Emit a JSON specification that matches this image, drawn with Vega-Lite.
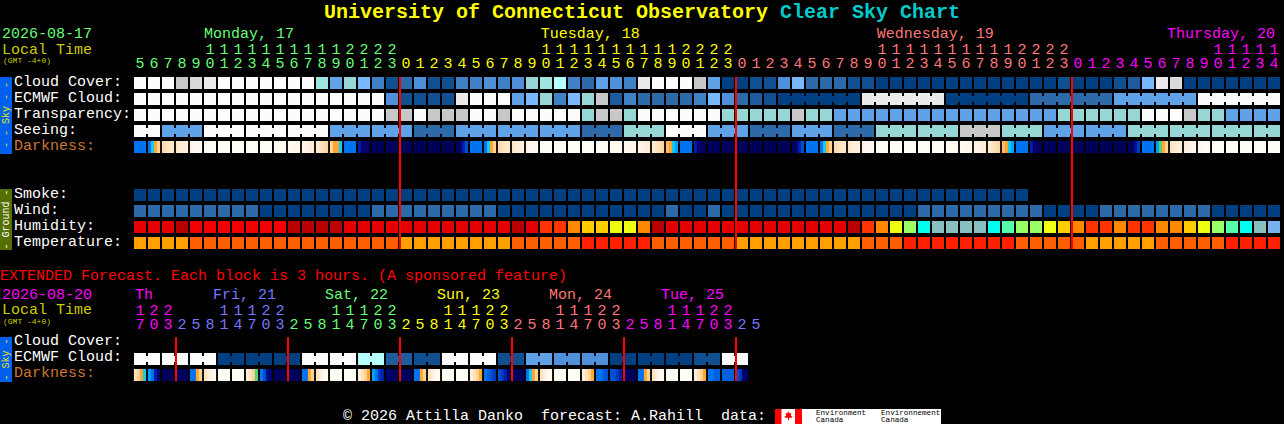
{"$schema":"https://vega.github.io/schema/vega-lite/v6.json","width":1284,"height":424,"autosize":{"type":"fit","contains":"padding"},"padding":0,"background":"#000000","config":{"view":{"stroke":null}},
"datasets":{
"boxes":[{"c":-10,"c1":-9.143,"r":-0.375,"r1":4.4375,"v":"B"},{"c":-10,"c1":-9.143,"r":6.625,"r1":10.4375,"v":"Gd"},{"c":-10,"c1":-9.143,"r":15.875,"r1":18.6875,"v":"B"},{"c":45.357,"c1":57.214,"r":20.375,"r1":21.3125,"v":"W"},{"c":45.357,"c1":45.82,"r":20.375,"r1":21.3125,"v":"Re"},{"c":46.786,"c1":47.286,"r":20.375,"r1":21.3125,"v":"Re"}],
"leaf":[{"c":46.32,"r":20.81,"v":"Re"}],
"rules":[{"c":18.5,"c1":18.643,"r":-0.375,"r1":10.375,"v":"Re"},{"c":42.5,"c1":42.643,"r":-0.375,"r1":10.375,"v":"Re"},{"c":66.5,"c1":66.643,"r":-0.375,"r1":10.375,"v":"Re"},{"c":2.5,"c1":2.643,"r":15.875,"r1":18.625,"v":"Re"},{"c":10.5,"c1":10.643,"r":15.875,"r1":18.625,"v":"Re"},{"c":18.5,"c1":18.643,"r":15.875,"r1":18.625,"v":"Re"},{"c":26.5,"c1":26.643,"r":15.875,"r1":18.625,"v":"Re"},{"c":34.5,"c1":34.643,"r":15.875,"r1":18.625,"v":"Re"},{"c":42.5,"c1":42.643,"r":15.875,"r1":18.625,"v":"Re"}],
"blocks":[
{"c":0,"r":0,"v":"a"},{"c":1,"r":0,"v":"a"},{"c":2,"r":0,"v":"a"},{"c":3,"r":0,"v":"d"},{"c":4,"r":0,"v":"c"},{"c":5,"r":0,"v":"b"},{"c":6,"r":0,"v":"a"},{"c":7,"r":0,"v":"a"},{"c":8,"r":0,"v":"a"},{"c":9,"r":0,"v":"a"},{"c":10,"r":0,"v":"a"},{"c":11,"r":0,"v":"a"},{"c":12,"r":0,"v":"a"},{"c":13,"r":0,"v":"f"},{"c":14,"r":0,"v":"i"},{"c":15,"r":0,"v":"g"},{"c":16,"r":0,"v":"h"},{"c":17,"r":0,"v":"k"},{"c":18,"r":0,"v":"n"},{"c":19,"r":0,"v":"l"},{"c":20,"r":0,"v":"j"},{"c":21,"r":0,"v":"n"},{"c":22,"r":0,"v":"n"},{"c":23,"r":0,"v":"k"},{"c":24,"r":0,"v":"k"},{"c":25,"r":0,"v":"j"},{"c":26,"r":0,"v":"k"},{"c":27,"r":0,"v":"j"},{"c":28,"r":0,"v":"g"},{"c":29,"r":0,"v":"f"},{"c":30,"r":0,"v":"e"},{"c":31,"r":0,"v":"k"},{"c":32,"r":0,"v":"l"},{"c":33,"r":0,"v":"i"},{"c":34,"r":0,"v":"j"},{"c":35,"r":0,"v":"k"},{"c":36,"r":0,"v":"b"},{"c":37,"r":0,"v":"a"},{"c":38,"r":0,"v":"a"},{"c":39,"r":0,"v":"a"},{"c":40,"r":0,"v":"d"},{"c":41,"r":0,"v":"i"},{"c":42,"r":0,"v":"o"},{"c":43,"r":0,"v":"o"},{"c":44,"r":0,"v":"n"},{"c":45,"r":0,"v":"n"},{"c":46,"r":0,"v":"j"},{"c":47,"r":0,"v":"h"},{"c":48,"r":0,"v":"l"},{"c":49,"r":0,"v":"l"},{"c":50,"r":0,"v":"l"},{"c":51,"r":0,"v":"n"},{"c":52,"r":0,"v":"n"},{"c":53,"r":0,"v":"o"},{"c":54,"r":0,"v":"o"},{"c":55,"r":0,"v":"o"},{"c":56,"r":0,"v":"o"},{"c":57,"r":0,"v":"o"},{"c":58,"r":0,"v":"o"},{"c":59,"r":0,"v":"o"},{"c":60,"r":0,"v":"o"},{"c":61,"r":0,"v":"o"},{"c":62,"r":0,"v":"o"},{"c":63,"r":0,"v":"o"},{"c":64,"r":0,"v":"o"},{"c":65,"r":0,"v":"o"},{"c":66,"r":0,"v":"n"},{"c":67,"r":0,"v":"o"},{"c":68,"r":0,"v":"o"},{"c":69,"r":0,"v":"o"},{"c":70,"r":0,"v":"n"},{"c":71,"r":0,"v":"m"},{"c":72,"r":0,"v":"h"},{"c":73,"r":0,"v":"b"},{"c":74,"r":0,"v":"c"},{"c":75,"r":0,"v":"o"},{"c":76,"r":0,"v":"o"},{"c":77,"r":0,"v":"o"},{"c":78,"r":0,"v":"o"},{"c":79,"r":0,"v":"o"},{"c":80,"r":0,"v":"o"},{"c":81,"r":0,"v":"o"},
{"c":0,"r":1,"v":"a"},{"c":1,"r":1,"v":"a"},{"c":2,"r":1,"v":"a"},{"c":3,"r":1,"v":"a"},{"c":4,"r":1,"v":"a"},{"c":5,"r":1,"v":"a"},{"c":6,"r":1,"v":"a"},{"c":7,"r":1,"v":"a"},{"c":8,"r":1,"v":"a"},{"c":9,"r":1,"v":"a"},{"c":10,"r":1,"v":"a"},{"c":11,"r":1,"v":"a"},{"c":12,"r":1,"v":"a"},{"c":13,"r":1,"v":"a"},{"c":14,"r":1,"v":"a"},{"c":15,"r":1,"v":"a"},{"c":16,"r":1,"v":"a"},{"c":17,"r":1,"v":"a"},{"c":18,"r":1,"v":"j"},{"c":19,"r":1,"v":"n"},{"c":20,"r":1,"v":"n"},{"c":21,"r":1,"v":"n"},{"c":22,"r":1,"v":"n"},{"c":23,"r":1,"v":"b"},{"c":24,"r":1,"v":"a"},{"c":25,"r":1,"v":"a"},{"c":26,"r":1,"v":"a"},{"c":27,"r":1,"v":"i"},{"c":28,"r":1,"v":"h"},{"c":29,"r":1,"v":"g"},{"c":30,"r":1,"v":"k"},{"c":31,"r":1,"v":"h"},{"c":32,"r":1,"v":"g"},{"c":33,"r":1,"v":"d"},{"c":34,"r":1,"v":"m"},{"c":35,"r":1,"v":"k"},{"c":36,"r":1,"v":"l"},{"c":37,"r":1,"v":"l"},{"c":38,"r":1,"v":"l"},{"c":39,"r":1,"v":"l"},{"c":40,"r":1,"v":"k"},{"c":41,"r":1,"v":"h"},{"c":42,"r":1,"v":"j"},{"c":43,"r":1,"v":"l"},{"c":44,"r":1,"v":"m"},{"c":45,"r":1,"v":"n"},{"c":46,"r":1,"v":"o"},{"c":47,"r":1,"v":"o"},{"c":48,"r":1,"v":"o"},{"c":49,"r":1,"v":"o"},{"c":50,"r":1,"v":"o"},{"c":51,"r":1,"v":"o"},{"c":52,"r":1,"v":"b"},{"c":53,"r":1,"v":"b"},{"c":54,"r":1,"v":"b"},{"c":55,"r":1,"v":"b"},{"c":56,"r":1,"v":"b"},{"c":57,"r":1,"v":"b"},{"c":58,"r":1,"v":"o"},{"c":59,"r":1,"v":"o"},{"c":60,"r":1,"v":"o"},{"c":61,"r":1,"v":"o"},{"c":62,"r":1,"v":"o"},{"c":63,"r":1,"v":"o"},{"c":64,"r":1,"v":"l"},{"c":65,"r":1,"v":"l"},{"c":66,"r":1,"v":"l"},{"c":67,"r":1,"v":"l"},{"c":68,"r":1,"v":"l"},{"c":69,"r":1,"v":"l"},{"c":70,"r":1,"v":"i"},{"c":71,"r":1,"v":"i"},{"c":72,"r":1,"v":"i"},{"c":73,"r":1,"v":"i"},{"c":74,"r":1,"v":"i"},{"c":75,"r":1,"v":"i"},{"c":76,"r":1,"v":"a"},{"c":77,"r":1,"v":"a"},{"c":78,"r":1,"v":"a"},{"c":79,"r":1,"v":"a"},{"c":80,"r":1,"v":"a"},{"c":81,"r":1,"v":"a"},
{"c":0,"r":2,"v":"a"},{"c":1,"r":2,"v":"a"},{"c":2,"r":2,"v":"a"},{"c":3,"r":2,"v":"a"},{"c":4,"r":2,"v":"a"},{"c":5,"r":2,"v":"a"},{"c":6,"r":2,"v":"a"},{"c":7,"r":2,"v":"a"},{"c":8,"r":2,"v":"a"},{"c":9,"r":2,"v":"a"},{"c":10,"r":2,"v":"a"},{"c":11,"r":2,"v":"a"},{"c":12,"r":2,"v":"a"},{"c":13,"r":2,"v":"a"},{"c":14,"r":2,"v":"a"},{"c":15,"r":2,"v":"a"},{"c":16,"r":2,"v":"a"},{"c":17,"r":2,"v":"a"},{"c":18,"r":2,"v":"d"},{"c":19,"r":2,"v":"d"},{"c":20,"r":2,"v":"a"},{"c":21,"r":2,"v":"d"},{"c":22,"r":2,"v":"d"},{"c":23,"r":2,"v":"d"},{"c":24,"r":2,"v":"a"},{"c":25,"r":2,"v":"a"},{"c":26,"r":2,"v":"d"},{"c":27,"r":2,"v":"a"},{"c":28,"r":2,"v":"a"},{"c":29,"r":2,"v":"a"},{"c":30,"r":2,"v":"a"},{"c":31,"r":2,"v":"a"},{"c":32,"r":2,"v":"g"},{"c":33,"r":2,"v":"d"},{"c":34,"r":2,"v":"d"},{"c":35,"r":2,"v":"g"},{"c":36,"r":2,"v":"a"},{"c":37,"r":2,"v":"a"},{"c":38,"r":2,"v":"a"},{"c":39,"r":2,"v":"a"},{"c":40,"r":2,"v":"a"},{"c":41,"r":2,"v":"a"},{"c":42,"r":2,"v":"g"},{"c":43,"r":2,"v":"g"},{"c":44,"r":2,"v":"g"},{"c":45,"r":2,"v":"g"},{"c":46,"r":2,"v":"g"},{"c":47,"r":2,"v":"d"},{"c":48,"r":2,"v":"g"},{"c":49,"r":2,"v":"g"},{"c":50,"r":2,"v":"i"},{"c":51,"r":2,"v":"i"},{"c":52,"r":2,"v":"i"},{"c":53,"r":2,"v":"i"},{"c":54,"r":2,"v":"i"},{"c":55,"r":2,"v":"i"},{"c":56,"r":2,"v":"i"},{"c":57,"r":2,"v":"i"},{"c":58,"r":2,"v":"i"},{"c":59,"r":2,"v":"i"},{"c":60,"r":2,"v":"i"},{"c":61,"r":2,"v":"i"},{"c":62,"r":2,"v":"i"},{"c":63,"r":2,"v":"i"},{"c":64,"r":2,"v":"i"},{"c":65,"r":2,"v":"i"},{"c":66,"r":2,"v":"g"},{"c":67,"r":2,"v":"g"},{"c":68,"r":2,"v":"g"},{"c":69,"r":2,"v":"g"},{"c":70,"r":2,"v":"g"},{"c":71,"r":2,"v":"g"},{"c":72,"r":2,"v":"a"},{"c":73,"r":2,"v":"a"},{"c":74,"r":2,"v":"a"},{"c":75,"r":2,"v":"d"},{"c":76,"r":2,"v":"g"},{"c":77,"r":2,"v":"g"},{"c":78,"r":2,"v":"i"},{"c":79,"r":2,"v":"i"},{"c":80,"r":2,"v":"i"},{"c":81,"r":2,"v":"i"},
{"c":0,"r":3,"v":"a"},{"c":1,"r":3,"v":"a"},{"c":2,"r":3,"v":"i"},{"c":3,"r":3,"v":"i"},{"c":4,"r":3,"v":"i"},{"c":5,"r":3,"v":"a"},{"c":6,"r":3,"v":"a"},{"c":7,"r":3,"v":"a"},{"c":8,"r":3,"v":"a"},{"c":9,"r":3,"v":"a"},{"c":10,"r":3,"v":"a"},{"c":11,"r":3,"v":"a"},{"c":12,"r":3,"v":"a"},{"c":13,"r":3,"v":"a"},{"c":14,"r":3,"v":"i"},{"c":15,"r":3,"v":"i"},{"c":16,"r":3,"v":"i"},{"c":17,"r":3,"v":"i"},{"c":18,"r":3,"v":"i"},{"c":19,"r":3,"v":"i"},{"c":20,"r":3,"v":"l"},{"c":21,"r":3,"v":"l"},{"c":22,"r":3,"v":"l"},{"c":23,"r":3,"v":"i"},{"c":24,"r":3,"v":"i"},{"c":25,"r":3,"v":"i"},{"c":26,"r":3,"v":"i"},{"c":27,"r":3,"v":"i"},{"c":28,"r":3,"v":"i"},{"c":29,"r":3,"v":"i"},{"c":30,"r":3,"v":"i"},{"c":31,"r":3,"v":"i"},{"c":32,"r":3,"v":"l"},{"c":33,"r":3,"v":"l"},{"c":34,"r":3,"v":"l"},{"c":35,"r":3,"v":"g"},{"c":36,"r":3,"v":"g"},{"c":37,"r":3,"v":"g"},{"c":38,"r":3,"v":"a"},{"c":39,"r":3,"v":"a"},{"c":40,"r":3,"v":"a"},{"c":41,"r":3,"v":"i"},{"c":42,"r":3,"v":"i"},{"c":43,"r":3,"v":"i"},{"c":44,"r":3,"v":"l"},{"c":45,"r":3,"v":"l"},{"c":46,"r":3,"v":"l"},{"c":47,"r":3,"v":"i"},{"c":48,"r":3,"v":"i"},{"c":49,"r":3,"v":"i"},{"c":50,"r":3,"v":"l"},{"c":51,"r":3,"v":"l"},{"c":52,"r":3,"v":"l"},{"c":53,"r":3,"v":"g"},{"c":54,"r":3,"v":"g"},{"c":55,"r":3,"v":"g"},{"c":56,"r":3,"v":"g"},{"c":57,"r":3,"v":"g"},{"c":58,"r":3,"v":"g"},{"c":59,"r":3,"v":"d"},{"c":60,"r":3,"v":"d"},{"c":61,"r":3,"v":"d"},{"c":62,"r":3,"v":"g"},{"c":63,"r":3,"v":"g"},{"c":64,"r":3,"v":"g"},{"c":65,"r":3,"v":"i"},{"c":66,"r":3,"v":"i"},{"c":67,"r":3,"v":"i"},{"c":68,"r":3,"v":"i"},{"c":69,"r":3,"v":"i"},{"c":70,"r":3,"v":"i"},{"c":71,"r":3,"v":"g"},{"c":72,"r":3,"v":"g"},{"c":73,"r":3,"v":"g"},{"c":74,"r":3,"v":"g"},{"c":75,"r":3,"v":"g"},{"c":76,"r":3,"v":"g"},{"c":77,"r":3,"v":"g"},{"c":78,"r":3,"v":"g"},{"c":79,"r":3,"v":"g"},{"c":80,"r":3,"v":"g"},{"c":81,"r":3,"v":"g"},
{"c":0,"r":7,"v":"o"},{"c":1,"r":7,"v":"o"},{"c":2,"r":7,"v":"o"},{"c":3,"r":7,"v":"o"},{"c":4,"r":7,"v":"o"},{"c":5,"r":7,"v":"o"},{"c":6,"r":7,"v":"o"},{"c":7,"r":7,"v":"o"},{"c":8,"r":7,"v":"o"},{"c":9,"r":7,"v":"o"},{"c":10,"r":7,"v":"o"},{"c":11,"r":7,"v":"o"},{"c":12,"r":7,"v":"o"},{"c":13,"r":7,"v":"o"},{"c":14,"r":7,"v":"o"},{"c":15,"r":7,"v":"o"},{"c":16,"r":7,"v":"o"},{"c":17,"r":7,"v":"o"},{"c":18,"r":7,"v":"o"},{"c":19,"r":7,"v":"o"},{"c":20,"r":7,"v":"o"},{"c":21,"r":7,"v":"o"},{"c":22,"r":7,"v":"o"},{"c":23,"r":7,"v":"o"},{"c":24,"r":7,"v":"o"},{"c":25,"r":7,"v":"o"},{"c":26,"r":7,"v":"o"},{"c":27,"r":7,"v":"o"},{"c":28,"r":7,"v":"o"},{"c":29,"r":7,"v":"o"},{"c":30,"r":7,"v":"o"},{"c":31,"r":7,"v":"o"},{"c":32,"r":7,"v":"o"},{"c":33,"r":7,"v":"o"},{"c":34,"r":7,"v":"o"},{"c":35,"r":7,"v":"o"},{"c":36,"r":7,"v":"o"},{"c":37,"r":7,"v":"o"},{"c":38,"r":7,"v":"o"},{"c":39,"r":7,"v":"o"},{"c":40,"r":7,"v":"o"},{"c":41,"r":7,"v":"o"},{"c":42,"r":7,"v":"o"},{"c":43,"r":7,"v":"o"},{"c":44,"r":7,"v":"o"},{"c":45,"r":7,"v":"o"},{"c":46,"r":7,"v":"o"},{"c":47,"r":7,"v":"o"},{"c":48,"r":7,"v":"o"},{"c":49,"r":7,"v":"o"},{"c":50,"r":7,"v":"o"},{"c":51,"r":7,"v":"o"},{"c":52,"r":7,"v":"o"},{"c":53,"r":7,"v":"o"},{"c":54,"r":7,"v":"o"},{"c":55,"r":7,"v":"o"},{"c":56,"r":7,"v":"o"},{"c":57,"r":7,"v":"o"},{"c":58,"r":7,"v":"o"},{"c":59,"r":7,"v":"o"},{"c":60,"r":7,"v":"o"},{"c":61,"r":7,"v":"o"},{"c":62,"r":7,"v":"o"},{"c":63,"r":7,"v":"o"},
{"c":0,"r":8,"v":"l"},{"c":1,"r":8,"v":"l"},{"c":2,"r":8,"v":"l"},{"c":3,"r":8,"v":"l"},{"c":4,"r":8,"v":"l"},{"c":5,"r":8,"v":"l"},{"c":6,"r":8,"v":"l"},{"c":7,"r":8,"v":"l"},{"c":8,"r":8,"v":"l"},{"c":9,"r":8,"v":"o"},{"c":10,"r":8,"v":"o"},{"c":11,"r":8,"v":"o"},{"c":12,"r":8,"v":"o"},{"c":13,"r":8,"v":"o"},{"c":14,"r":8,"v":"o"},{"c":15,"r":8,"v":"o"},{"c":16,"r":8,"v":"o"},{"c":17,"r":8,"v":"l"},{"c":18,"r":8,"v":"l"},{"c":19,"r":8,"v":"l"},{"c":20,"r":8,"v":"l"},{"c":21,"r":8,"v":"l"},{"c":22,"r":8,"v":"l"},{"c":23,"r":8,"v":"l"},{"c":24,"r":8,"v":"l"},{"c":25,"r":8,"v":"l"},{"c":26,"r":8,"v":"o"},{"c":27,"r":8,"v":"o"},{"c":28,"r":8,"v":"o"},{"c":29,"r":8,"v":"o"},{"c":30,"r":8,"v":"o"},{"c":31,"r":8,"v":"o"},{"c":32,"r":8,"v":"o"},{"c":33,"r":8,"v":"o"},{"c":34,"r":8,"v":"o"},{"c":35,"r":8,"v":"o"},{"c":36,"r":8,"v":"o"},{"c":37,"r":8,"v":"o"},{"c":38,"r":8,"v":"l"},{"c":39,"r":8,"v":"o"},{"c":40,"r":8,"v":"o"},{"c":41,"r":8,"v":"l"},{"c":42,"r":8,"v":"o"},{"c":43,"r":8,"v":"o"},{"c":44,"r":8,"v":"o"},{"c":45,"r":8,"v":"o"},{"c":46,"r":8,"v":"o"},{"c":47,"r":8,"v":"o"},{"c":48,"r":8,"v":"o"},{"c":49,"r":8,"v":"o"},{"c":50,"r":8,"v":"o"},{"c":51,"r":8,"v":"o"},{"c":52,"r":8,"v":"o"},{"c":53,"r":8,"v":"o"},{"c":54,"r":8,"v":"o"},{"c":55,"r":8,"v":"o"},{"c":56,"r":8,"v":"l"},{"c":57,"r":8,"v":"l"},{"c":58,"r":8,"v":"l"},{"c":59,"r":8,"v":"l"},{"c":60,"r":8,"v":"l"},{"c":61,"r":8,"v":"l"},{"c":62,"r":8,"v":"l"},{"c":63,"r":8,"v":"l"},{"c":64,"r":8,"v":"l"},{"c":65,"r":8,"v":"o"},{"c":66,"r":8,"v":"o"},{"c":67,"r":8,"v":"o"},{"c":68,"r":8,"v":"o"},{"c":69,"r":8,"v":"l"},{"c":70,"r":8,"v":"l"},{"c":71,"r":8,"v":"l"},{"c":72,"r":8,"v":"l"},{"c":73,"r":8,"v":"l"},{"c":74,"r":8,"v":"l"},{"c":75,"r":8,"v":"l"},{"c":76,"r":8,"v":"l"},{"c":77,"r":8,"v":"o"},{"c":78,"r":8,"v":"o"},{"c":79,"r":8,"v":"o"},{"c":80,"r":8,"v":"o"},{"c":81,"r":8,"v":"o"},
{"c":0,"r":9,"v":"F"},{"c":1,"r":9,"v":"F"},{"c":2,"r":9,"v":"F"},{"c":3,"r":9,"v":"D"},{"c":4,"r":9,"v":"E"},{"c":5,"r":9,"v":"E"},{"c":6,"r":9,"v":"E"},{"c":7,"r":9,"v":"E"},{"c":8,"r":9,"v":"E"},{"c":9,"r":9,"v":"E"},{"c":10,"r":9,"v":"E"},{"c":11,"r":9,"v":"D"},{"c":12,"r":9,"v":"D"},{"c":13,"r":9,"v":"D"},{"c":14,"r":9,"v":"D"},{"c":15,"r":9,"v":"F"},{"c":16,"r":9,"v":"F"},{"c":17,"r":9,"v":"F"},{"c":18,"r":9,"v":"F"},{"c":19,"r":9,"v":"F"},{"c":20,"r":9,"v":"F"},{"c":21,"r":9,"v":"F"},{"c":22,"r":9,"v":"F"},{"c":23,"r":9,"v":"F"},{"c":24,"r":9,"v":"F"},{"c":25,"r":9,"v":"F"},{"c":26,"r":9,"v":"F"},{"c":27,"r":9,"v":"D"},{"c":28,"r":9,"v":"F"},{"c":29,"r":9,"v":"H"},{"c":30,"r":9,"v":"H"},{"c":31,"r":9,"v":"I"},{"c":32,"r":9,"v":"J"},{"c":33,"r":9,"v":"J"},{"c":34,"r":9,"v":"K"},{"c":35,"r":9,"v":"K"},{"c":36,"r":9,"v":"I"},{"c":37,"r":9,"v":"D"},{"c":38,"r":9,"v":"F"},{"c":39,"r":9,"v":"F"},{"c":40,"r":9,"v":"F"},{"c":41,"r":9,"v":"F"},{"c":42,"r":9,"v":"F"},{"c":43,"r":9,"v":"F"},{"c":44,"r":9,"v":"F"},{"c":45,"r":9,"v":"F"},{"c":46,"r":9,"v":"F"},{"c":47,"r":9,"v":"F"},{"c":48,"r":9,"v":"F"},{"c":49,"r":9,"v":"F"},{"c":50,"r":9,"v":"F"},{"c":51,"r":9,"v":"D"},{"c":52,"r":9,"v":"H"},{"c":53,"r":9,"v":"I"},{"c":54,"r":9,"v":"K"},{"c":55,"r":9,"v":"L"},{"c":56,"r":9,"v":"N"},{"c":57,"r":9,"v":"O"},{"c":58,"r":9,"v":"O"},{"c":59,"r":9,"v":"O"},{"c":60,"r":9,"v":"O"},{"c":61,"r":9,"v":"N"},{"c":62,"r":9,"v":"M"},{"c":63,"r":9,"v":"L"},{"c":64,"r":9,"v":"L"},{"c":65,"r":9,"v":"K"},{"c":66,"r":9,"v":"J"},{"c":67,"r":9,"v":"I"},{"c":68,"r":9,"v":"H"},{"c":69,"r":9,"v":"H"},{"c":70,"r":9,"v":"I"},{"c":71,"r":9,"v":"H"},{"c":72,"r":9,"v":"H"},{"c":73,"r":9,"v":"I"},{"c":74,"r":9,"v":"I"},{"c":75,"r":9,"v":"J"},{"c":76,"r":9,"v":"K"},{"c":77,"r":9,"v":"L"},{"c":78,"r":9,"v":"M"},{"c":79,"r":9,"v":"N"},{"c":80,"r":9,"v":"O"},{"c":81,"r":9,"v":"P"},
{"c":0,"r":10,"v":"Q"},{"c":1,"r":10,"v":"Q"},{"c":2,"r":10,"v":"Q"},{"c":3,"r":10,"v":"Q"},{"c":4,"r":10,"v":"S"},{"c":5,"r":10,"v":"S"},{"c":6,"r":10,"v":"S"},{"c":7,"r":10,"v":"S"},{"c":8,"r":10,"v":"S"},{"c":9,"r":10,"v":"S"},{"c":10,"r":10,"v":"S"},{"c":11,"r":10,"v":"S"},{"c":12,"r":10,"v":"S"},{"c":13,"r":10,"v":"S"},{"c":14,"r":10,"v":"S"},{"c":15,"r":10,"v":"S"},{"c":16,"r":10,"v":"S"},{"c":17,"r":10,"v":"S"},{"c":18,"r":10,"v":"S"},{"c":19,"r":10,"v":"Q"},{"c":20,"r":10,"v":"Q"},{"c":21,"r":10,"v":"Q"},{"c":22,"r":10,"v":"Q"},{"c":23,"r":10,"v":"Q"},{"c":24,"r":10,"v":"Q"},{"c":25,"r":10,"v":"Q"},{"c":26,"r":10,"v":"Q"},{"c":27,"r":10,"v":"S"},{"c":28,"r":10,"v":"S"},{"c":29,"r":10,"v":"S"},{"c":30,"r":10,"v":"S"},{"c":31,"r":10,"v":"S"},{"c":32,"r":10,"v":"T"},{"c":33,"r":10,"v":"T"},{"c":34,"r":10,"v":"T"},{"c":35,"r":10,"v":"T"},{"c":36,"r":10,"v":"T"},{"c":37,"r":10,"v":"S"},{"c":38,"r":10,"v":"S"},{"c":39,"r":10,"v":"S"},{"c":40,"r":10,"v":"S"},{"c":41,"r":10,"v":"S"},{"c":42,"r":10,"v":"S"},{"c":43,"r":10,"v":"Q"},{"c":44,"r":10,"v":"Q"},{"c":45,"r":10,"v":"Q"},{"c":46,"r":10,"v":"Q"},{"c":47,"r":10,"v":"Q"},{"c":48,"r":10,"v":"Q"},{"c":49,"r":10,"v":"Q"},{"c":50,"r":10,"v":"Q"},{"c":51,"r":10,"v":"Q"},{"c":52,"r":10,"v":"S"},{"c":53,"r":10,"v":"S"},{"c":54,"r":10,"v":"S"},{"c":55,"r":10,"v":"T"},{"c":56,"r":10,"v":"T"},{"c":57,"r":10,"v":"T"},{"c":58,"r":10,"v":"T"},{"c":59,"r":10,"v":"T"},{"c":60,"r":10,"v":"T"},{"c":61,"r":10,"v":"T"},{"c":62,"r":10,"v":"T"},{"c":63,"r":10,"v":"S"},{"c":64,"r":10,"v":"S"},{"c":65,"r":10,"v":"S"},{"c":66,"r":10,"v":"S"},{"c":67,"r":10,"v":"S"},{"c":68,"r":10,"v":"Q"},{"c":69,"r":10,"v":"Q"},{"c":70,"r":10,"v":"Q"},{"c":71,"r":10,"v":"Q"},{"c":72,"r":10,"v":"Q"},{"c":73,"r":10,"v":"S"},{"c":74,"r":10,"v":"S"},{"c":75,"r":10,"v":"S"},{"c":76,"r":10,"v":"S"},{"c":77,"r":10,"v":"S"},{"c":78,"r":10,"v":"T"},{"c":79,"r":10,"v":"T"},{"c":80,"r":10,"v":"T"},{"c":81,"r":10,"v":"T"},
{"c":0,"r":17.25,"v":"a"},{"c":1,"r":17.25,"v":"a"},{"c":2,"r":17.25,"v":"a"},{"c":3,"r":17.25,"v":"a"},{"c":4,"r":17.25,"v":"a"},{"c":5,"r":17.25,"v":"a"},{"c":6,"r":17.25,"v":"o"},{"c":7,"r":17.25,"v":"o"},{"c":8,"r":17.25,"v":"o"},{"c":9,"r":17.25,"v":"o"},{"c":10,"r":17.25,"v":"o"},{"c":11,"r":17.25,"v":"o"},{"c":12,"r":17.25,"v":"a"},{"c":13,"r":17.25,"v":"a"},{"c":14,"r":17.25,"v":"a"},{"c":15,"r":17.25,"v":"a"},{"c":16,"r":17.25,"v":"e"},{"c":17,"r":17.25,"v":"e"},{"c":18,"r":17.25,"v":"m"},{"c":19,"r":17.25,"v":"m"},{"c":20,"r":17.25,"v":"n"},{"c":21,"r":17.25,"v":"n"},{"c":22,"r":17.25,"v":"a"},{"c":23,"r":17.25,"v":"a"},{"c":24,"r":17.25,"v":"a"},{"c":25,"r":17.25,"v":"a"},{"c":26,"r":17.25,"v":"n"},{"c":27,"r":17.25,"v":"n"},{"c":28,"r":17.25,"v":"i"},{"c":29,"r":17.25,"v":"i"},{"c":30,"r":17.25,"v":"j"},{"c":31,"r":17.25,"v":"j"},{"c":32,"r":17.25,"v":"j"},{"c":33,"r":17.25,"v":"j"},{"c":34,"r":17.25,"v":"o"},{"c":35,"r":17.25,"v":"o"},{"c":36,"r":17.25,"v":"o"},{"c":37,"r":17.25,"v":"o"},{"c":38,"r":17.25,"v":"o"},{"c":39,"r":17.25,"v":"o"},{"c":40,"r":17.25,"v":"n"},{"c":41,"r":17.25,"v":"n"},{"c":42,"r":17.25,"v":"a"},{"c":43,"r":17.25,"v":"a"}],
"links":[{"c":0.5,"r":3,"v":"a"},{"c":2.5,"r":3,"v":"i"},{"c":3.5,"r":3,"v":"i"},{"c":5.5,"r":3,"v":"a"},{"c":6.5,"r":3,"v":"a"},{"c":8.5,"r":3,"v":"a"},{"c":9.5,"r":3,"v":"a"},{"c":11.5,"r":3,"v":"a"},{"c":12.5,"r":3,"v":"a"},{"c":14.5,"r":3,"v":"i"},{"c":15.5,"r":3,"v":"i"},{"c":17.5,"r":3,"v":"i"},{"c":18.5,"r":3,"v":"i"},{"c":20.5,"r":3,"v":"l"},{"c":21.5,"r":3,"v":"l"},{"c":23.5,"r":3,"v":"i"},{"c":24.5,"r":3,"v":"i"},{"c":26.5,"r":3,"v":"i"},{"c":27.5,"r":3,"v":"i"},{"c":29.5,"r":3,"v":"i"},{"c":30.5,"r":3,"v":"i"},{"c":32.5,"r":3,"v":"l"},{"c":33.5,"r":3,"v":"l"},{"c":35.5,"r":3,"v":"g"},{"c":36.5,"r":3,"v":"g"},{"c":38.5,"r":3,"v":"a"},{"c":39.5,"r":3,"v":"a"},{"c":41.5,"r":3,"v":"i"},{"c":42.5,"r":3,"v":"i"},{"c":44.5,"r":3,"v":"l"},{"c":45.5,"r":3,"v":"l"},{"c":47.5,"r":3,"v":"i"},{"c":48.5,"r":3,"v":"i"},{"c":50.5,"r":3,"v":"l"},{"c":51.5,"r":3,"v":"l"},{"c":53.5,"r":3,"v":"g"},{"c":54.5,"r":3,"v":"g"},{"c":56.5,"r":3,"v":"g"},{"c":57.5,"r":3,"v":"g"},{"c":59.5,"r":3,"v":"d"},{"c":60.5,"r":3,"v":"d"},{"c":62.5,"r":3,"v":"g"},{"c":63.5,"r":3,"v":"g"},{"c":65.5,"r":3,"v":"i"},{"c":66.5,"r":3,"v":"i"},{"c":68.5,"r":3,"v":"i"},{"c":69.5,"r":3,"v":"i"},{"c":71.5,"r":3,"v":"g"},{"c":72.5,"r":3,"v":"g"},{"c":74.5,"r":3,"v":"g"},{"c":75.5,"r":3,"v":"g"},{"c":77.5,"r":3,"v":"g"},{"c":78.5,"r":3,"v":"g"},{"c":80.5,"r":3,"v":"g"},
{"c":46.5,"r":1,"v":"o"},{"c":47.5,"r":1,"v":"o"},{"c":48.5,"r":1,"v":"o"},{"c":49.5,"r":1,"v":"o"},{"c":50.5,"r":1,"v":"o"},{"c":52.5,"r":1,"v":"b"},{"c":53.5,"r":1,"v":"b"},{"c":54.5,"r":1,"v":"b"},{"c":55.5,"r":1,"v":"b"},{"c":56.5,"r":1,"v":"b"},{"c":58.5,"r":1,"v":"o"},{"c":59.5,"r":1,"v":"o"},{"c":60.5,"r":1,"v":"o"},{"c":61.5,"r":1,"v":"o"},{"c":62.5,"r":1,"v":"o"},{"c":64.5,"r":1,"v":"l"},{"c":65.5,"r":1,"v":"l"},{"c":66.5,"r":1,"v":"l"},{"c":67.5,"r":1,"v":"l"},{"c":68.5,"r":1,"v":"l"},{"c":70.5,"r":1,"v":"i"},{"c":71.5,"r":1,"v":"i"},{"c":72.5,"r":1,"v":"i"},{"c":73.5,"r":1,"v":"i"},{"c":74.5,"r":1,"v":"i"},{"c":76.5,"r":1,"v":"a"},{"c":77.5,"r":1,"v":"a"},{"c":78.5,"r":1,"v":"a"},{"c":79.5,"r":1,"v":"a"},{"c":80.5,"r":1,"v":"a"},
{"c":0.5,"r":17.25,"v":"a"},{"c":2.5,"r":17.25,"v":"a"},{"c":4.5,"r":17.25,"v":"a"},{"c":6.5,"r":17.25,"v":"o"},{"c":8.5,"r":17.25,"v":"o"},{"c":10.5,"r":17.25,"v":"o"},{"c":12.5,"r":17.25,"v":"a"},{"c":14.5,"r":17.25,"v":"a"},{"c":16.5,"r":17.25,"v":"e"},{"c":18.5,"r":17.25,"v":"m"},{"c":20.5,"r":17.25,"v":"n"},{"c":22.5,"r":17.25,"v":"a"},{"c":24.5,"r":17.25,"v":"a"},{"c":26.5,"r":17.25,"v":"n"},{"c":28.5,"r":17.25,"v":"i"},{"c":30.5,"r":17.25,"v":"j"},{"c":32.5,"r":17.25,"v":"j"},{"c":34.5,"r":17.25,"v":"o"},{"c":36.5,"r":17.25,"v":"o"},{"c":38.5,"r":17.25,"v":"o"},{"c":40.5,"r":17.25,"v":"n"},{"c":42.5,"r":17.25,"v":"a"}],
"dark":[{"c":0,"r":4,"d":7},{"c":5,"r":4,"d":0},{"c":6,"r":4,"d":0},{"c":7,"r":4,"d":0},{"c":8,"r":4,"d":0},{"c":9,"r":4,"d":0},{"c":15,"r":4,"d":7},{"c":17,"r":4,"d":11},{"c":18,"r":4,"d":11},{"c":19,"r":4,"d":11},{"c":20,"r":4,"d":11},{"c":21,"r":4,"d":11},{"c":22,"r":4,"d":11},{"c":24,"r":4,"d":7},{"c":29,"r":4,"d":0},{"c":30,"r":4,"d":0},{"c":31,"r":4,"d":0},{"c":32,"r":4,"d":0},{"c":33,"r":4,"d":0},{"c":39,"r":4,"d":7},{"c":41,"r":4,"d":11},{"c":42,"r":4,"d":11},{"c":43,"r":4,"d":11},{"c":44,"r":4,"d":11},{"c":45,"r":4,"d":11},{"c":46,"r":4,"d":11},{"c":48,"r":4,"d":7},{"c":53,"r":4,"d":0},{"c":54,"r":4,"d":0},{"c":55,"r":4,"d":0},{"c":56,"r":4,"d":0},{"c":57,"r":4,"d":0},{"c":63,"r":4,"d":7},{"c":65,"r":4,"d":11},{"c":66,"r":4,"d":11},{"c":67,"r":4,"d":11},{"c":68,"r":4,"d":11},{"c":69,"r":4,"d":11},{"c":70,"r":4,"d":11},{"c":72,"r":4,"d":7},{"c":77,"r":4,"d":0},{"c":78,"r":4,"d":0},{"c":79,"r":4,"d":0},{"c":80,"r":4,"d":0},{"c":81,"r":4,"d":0},
{"c":2,"r":18.25,"d":11},{"c":3,"r":18.25,"d":11},{"c":6,"r":18.25,"d":0},{"c":7,"r":18.25,"d":0},{"c":10,"r":18.25,"d":11},{"c":11,"r":18.25,"d":11},{"c":14,"r":18.25,"d":0},{"c":15,"r":18.25,"d":0},{"c":19,"r":18.25,"d":11},{"c":22,"r":18.25,"d":0},{"c":23,"r":18.25,"d":0},{"c":27,"r":18.25,"d":11},{"c":30,"r":18.25,"d":0},{"c":31,"r":18.25,"d":0},{"c":38,"r":18.25,"d":0},{"c":39,"r":18.25,"d":0},{"c":42,"r":18.25,"d":7.5}],
"strips":[
{"c":0.679,"r":4,"d":7},{"c":0.893,"r":4,"d":6},{"c":1.107,"r":4,"d":5},{"c":1.321,"r":4,"d":4},
{"c":1.679,"r":4,"d":3.5},{"c":1.893,"r":4,"d":3},{"c":2.107,"r":4,"d":2.7},{"c":2.321,"r":4,"d":2.5},
{"c":2.679,"r":4,"d":2.5},{"c":2.893,"r":4,"d":2},{"c":3.107,"r":4,"d":2},{"c":3.321,"r":4,"d":1.5},
{"c":3.679,"r":4,"d":1.5},{"c":3.893,"r":4,"d":1},{"c":4.107,"r":4,"d":1},{"c":4.321,"r":4,"d":0.5},
{"c":9.679,"r":4,"d":0},{"c":9.893,"r":4,"d":0.2},{"c":10.107,"r":4,"d":0.3},{"c":10.321,"r":4,"d":0.5},
{"c":10.679,"r":4,"d":0.5},{"c":10.893,"r":4,"d":0.8},{"c":11.107,"r":4,"d":1},{"c":11.321,"r":4,"d":1.2},
{"c":11.679,"r":4,"d":1.3},{"c":11.893,"r":4,"d":1.6},{"c":12.107,"r":4,"d":2},{"c":12.321,"r":4,"d":2.2},
{"c":12.679,"r":4,"d":2.3},{"c":12.893,"r":4,"d":2.8},{"c":13.107,"r":4,"d":3.2},{"c":13.321,"r":4,"d":3.8},
{"c":13.679,"r":4,"d":4},{"c":13.893,"r":4,"d":5},{"c":14.107,"r":4,"d":5},{"c":14.321,"r":4,"d":6},
{"c":15.679,"r":4,"d":9},{"c":15.893,"r":4,"d":10},{"c":16.107,"r":4,"d":10},{"c":16.321,"r":4,"d":10.5},
{"c":22.679,"r":4,"d":11},{"c":22.893,"r":4,"d":10},{"c":23.107,"r":4,"d":9},{"c":23.321,"r":4,"d":8},
{"c":24.679,"r":4,"d":7},{"c":24.893,"r":4,"d":6},{"c":25.107,"r":4,"d":5},{"c":25.321,"r":4,"d":4},
{"c":25.679,"r":4,"d":3.5},{"c":25.893,"r":4,"d":3},{"c":26.107,"r":4,"d":2.7},{"c":26.321,"r":4,"d":2.5},
{"c":26.679,"r":4,"d":2.5},{"c":26.893,"r":4,"d":2},{"c":27.107,"r":4,"d":2},{"c":27.321,"r":4,"d":1.5},
{"c":27.679,"r":4,"d":1.5},{"c":27.893,"r":4,"d":1},{"c":28.107,"r":4,"d":1},{"c":28.321,"r":4,"d":0.5},
{"c":33.679,"r":4,"d":0},{"c":33.893,"r":4,"d":0.2},{"c":34.107,"r":4,"d":0.3},{"c":34.321,"r":4,"d":0.5},
{"c":34.679,"r":4,"d":0.5},{"c":34.893,"r":4,"d":0.8},{"c":35.107,"r":4,"d":1},{"c":35.321,"r":4,"d":1.2},
{"c":35.679,"r":4,"d":1.3},{"c":35.893,"r":4,"d":1.6},{"c":36.107,"r":4,"d":2},{"c":36.321,"r":4,"d":2.2},
{"c":36.679,"r":4,"d":2.3},{"c":36.893,"r":4,"d":2.8},{"c":37.107,"r":4,"d":3.2},{"c":37.321,"r":4,"d":3.8},
{"c":37.679,"r":4,"d":4.5},{"c":37.893,"r":4,"d":5},{"c":38.107,"r":4,"d":6},{"c":38.321,"r":4,"d":6.5},
{"c":39.679,"r":4,"d":9},{"c":39.893,"r":4,"d":10},{"c":40.107,"r":4,"d":10.5},{"c":40.321,"r":4,"d":11},
{"c":46.679,"r":4,"d":11},{"c":46.893,"r":4,"d":10},{"c":47.107,"r":4,"d":9},{"c":47.321,"r":4,"d":8},
{"c":48.679,"r":4,"d":7},{"c":48.893,"r":4,"d":6},{"c":49.107,"r":4,"d":5},{"c":49.321,"r":4,"d":4},
{"c":49.679,"r":4,"d":3.5},{"c":49.893,"r":4,"d":3},{"c":50.107,"r":4,"d":2.7},{"c":50.321,"r":4,"d":2.5},
{"c":50.679,"r":4,"d":2.5},{"c":50.893,"r":4,"d":2},{"c":51.107,"r":4,"d":2},{"c":51.321,"r":4,"d":1.5},
{"c":51.679,"r":4,"d":1.5},{"c":51.893,"r":4,"d":1},{"c":52.107,"r":4,"d":1},{"c":52.321,"r":4,"d":0.5},
{"c":57.679,"r":4,"d":0},{"c":57.893,"r":4,"d":0.2},{"c":58.107,"r":4,"d":0.3},{"c":58.321,"r":4,"d":0.5},
{"c":58.679,"r":4,"d":0.5},{"c":58.893,"r":4,"d":0.8},{"c":59.107,"r":4,"d":1},{"c":59.321,"r":4,"d":1.2},
{"c":59.679,"r":4,"d":1.3},{"c":59.893,"r":4,"d":1.6},{"c":60.107,"r":4,"d":2},{"c":60.321,"r":4,"d":2.2},
{"c":60.679,"r":4,"d":2.3},{"c":60.893,"r":4,"d":2.8},{"c":61.107,"r":4,"d":3.2},{"c":61.321,"r":4,"d":3.8},
{"c":61.679,"r":4,"d":4.5},{"c":61.893,"r":4,"d":5},{"c":62.107,"r":4,"d":6},{"c":62.321,"r":4,"d":6.5},
{"c":63.679,"r":4,"d":9},{"c":63.893,"r":4,"d":10},{"c":64.107,"r":4,"d":10.5},{"c":64.321,"r":4,"d":11},
{"c":70.679,"r":4,"d":11},{"c":70.893,"r":4,"d":10.5},{"c":71.107,"r":4,"d":9.5},{"c":71.321,"r":4,"d":8.5},
{"c":72.679,"r":4,"d":6.5},{"c":72.893,"r":4,"d":5.5},{"c":73.107,"r":4,"d":5},{"c":73.321,"r":4,"d":4},
{"c":73.679,"r":4,"d":3},{"c":73.893,"r":4,"d":2.5},{"c":74.107,"r":4,"d":2},{"c":74.321,"r":4,"d":2},
{"c":74.679,"r":4,"d":2},{"c":74.893,"r":4,"d":1.7},{"c":75.107,"r":4,"d":1.3},{"c":75.321,"r":4,"d":1},
{"c":75.679,"r":4,"d":1},{"c":75.893,"r":4,"d":0.8},{"c":76.107,"r":4,"d":0.5},{"c":76.321,"r":4,"d":0.2},
{"c":-0.321,"r":18.25,"d":3},{"c":-0.107,"r":18.25,"d":4},{"c":0.107,"r":18.25,"d":5},{"c":0.321,"r":18.25,"d":6},
{"c":0.679,"r":18.25,"d":6.5},{"c":0.893,"r":18.25,"d":7},{"c":1.107,"r":18.25,"d":9},{"c":1.321,"r":18.25,"d":10},
{"c":3.679,"r":18.25,"d":7},{"c":3.893,"r":18.25,"d":7},{"c":4.107,"r":18.25,"d":5},{"c":4.321,"r":18.25,"d":4},
{"c":4.679,"r":18.25,"d":3},{"c":4.893,"r":18.25,"d":2},{"c":5.107,"r":18.25,"d":1.5},{"c":5.321,"r":18.25,"d":1},
{"c":7.679,"r":18.25,"d":2},{"c":7.893,"r":18.25,"d":3},{"c":8.107,"r":18.25,"d":4},{"c":8.321,"r":18.25,"d":5.5},
{"c":8.679,"r":18.25,"d":7},{"c":8.893,"r":18.25,"d":8},{"c":9.107,"r":18.25,"d":9.5},{"c":9.321,"r":18.25,"d":10},
{"c":11.679,"r":18.25,"d":7},{"c":11.893,"r":18.25,"d":7},{"c":12.107,"r":18.25,"d":5},{"c":12.321,"r":18.25,"d":4},
{"c":12.679,"r":18.25,"d":3},{"c":12.893,"r":18.25,"d":2},{"c":13.107,"r":18.25,"d":1},{"c":13.321,"r":18.25,"d":0.5},
{"c":15.679,"r":18.25,"d":2},{"c":15.893,"r":18.25,"d":3},{"c":16.107,"r":18.25,"d":4},{"c":16.321,"r":18.25,"d":5},
{"c":16.679,"r":18.25,"d":6.5},{"c":16.893,"r":18.25,"d":7},{"c":17.107,"r":18.25,"d":8.5},{"c":17.321,"r":18.25,"d":9},
{"c":17.679,"r":18.25,"d":10},{"c":17.893,"r":18.25,"d":10},{"c":18.107,"r":18.25,"d":10.5},{"c":18.321,"r":18.25,"d":11},
{"c":19.679,"r":18.25,"d":7},{"c":19.893,"r":18.25,"d":7},{"c":20.107,"r":18.25,"d":5},{"c":20.321,"r":18.25,"d":4},
{"c":20.679,"r":18.25,"d":3},{"c":20.893,"r":18.25,"d":2},{"c":21.107,"r":18.25,"d":1},{"c":21.321,"r":18.25,"d":0.5},
{"c":23.679,"r":18.25,"d":2},{"c":23.893,"r":18.25,"d":3},{"c":24.107,"r":18.25,"d":4},{"c":24.321,"r":18.25,"d":5},
{"c":24.679,"r":18.25,"d":7},{"c":24.893,"r":18.25,"d":7.5},{"c":25.107,"r":18.25,"d":8},{"c":25.321,"r":18.25,"d":8.5},
{"c":25.679,"r":18.25,"d":8},{"c":25.893,"r":18.25,"d":8.5},{"c":26.107,"r":18.25,"d":9},{"c":26.321,"r":18.25,"d":10},
{"c":27.679,"r":18.25,"d":7},{"c":27.893,"r":18.25,"d":6},{"c":28.107,"r":18.25,"d":5},{"c":28.321,"r":18.25,"d":4},
{"c":28.679,"r":18.25,"d":3},{"c":28.893,"r":18.25,"d":2},{"c":29.107,"r":18.25,"d":1},{"c":29.321,"r":18.25,"d":0.5},
{"c":31.679,"r":18.25,"d":2},{"c":31.893,"r":18.25,"d":3},{"c":32.107,"r":18.25,"d":4},{"c":32.321,"r":18.25,"d":5},
{"c":32.679,"r":18.25,"d":7},{"c":32.893,"r":18.25,"d":7},{"c":33.107,"r":18.25,"d":7.5},{"c":33.321,"r":18.25,"d":8},
{"c":33.679,"r":18.25,"d":8},{"c":33.893,"r":18.25,"d":8},{"c":34.107,"r":18.25,"d":8.5},{"c":34.321,"r":18.25,"d":9},
{"c":34.679,"r":18.25,"d":10.5},{"c":34.893,"r":18.25,"d":10.5},{"c":35.107,"r":18.25,"d":11},{"c":35.321,"r":18.25,"d":11},
{"c":35.679,"r":18.25,"d":7},{"c":35.893,"r":18.25,"d":7},{"c":36.107,"r":18.25,"d":5},{"c":36.321,"r":18.25,"d":4},
{"c":36.679,"r":18.25,"d":3},{"c":36.893,"r":18.25,"d":2},{"c":37.107,"r":18.25,"d":1},{"c":37.321,"r":18.25,"d":0.5},
{"c":39.679,"r":18.25,"d":2},{"c":39.893,"r":18.25,"d":3},{"c":40.107,"r":18.25,"d":4},{"c":40.321,"r":18.25,"d":5},
{"c":40.679,"r":18.25,"d":7},{"c":40.893,"r":18.25,"d":7},{"c":41.107,"r":18.25,"d":7.5},{"c":41.321,"r":18.25,"d":7.5},
{"c":42.679,"r":18.25,"d":8},{"c":42.893,"r":18.25,"d":8.5},{"c":43.107,"r":18.25,"d":10},{"c":43.321,"r":18.25,"d":10.5}],
"title":[{"c":13.143,"r":-4.4375,"t":"University of Connecticut Observatory","v":"Y"},{"c":45.714,"r":-4.4375,"t":"Clear Sky Chart","v":"Cy"}],
"labels":[{"c":-9.857,"r":-3.0625,"t":"2026-08-17","v":"Gr"},{"c":-9.857,"r":-2.0625,"t":"Local Time","v":"Ol"},{"c":4.571,"r":-3.0625,"t":"Monday, 17","v":"Gr"},{"c":28.62,"r":-3.0625,"t":"Tuesday, 18","v":"Y"},{"c":52.62,"r":-3.0625,"t":"Wednesday, 19","v":"Sa"},{"c":73.357,"r":-3.0625,"t":"Thursday, 20","v":"Ma"},
{"c":-9,"r":-0.06,"t":"Cloud Cover:","v":"W"},{"c":-9,"r":0.94,"t":"ECMWF Cloud:","v":"W"},{"c":-9,"r":1.94,"t":"Transparency:","v":"W"},{"c":-9,"r":2.94,"t":"Seeing:","v":"W"},{"c":-9,"r":3.94,"t":"Darkness:","v":"Da"},{"c":-9,"r":6.94,"t":"Smoke:","v":"W"},{"c":-9,"r":7.94,"t":"Wind:","v":"W"},{"c":-9,"r":8.94,"t":"Humidity:","v":"W"},{"c":-9,"r":9.94,"t":"Temperature:","v":"W"},
{"c":-10,"r":12.0625,"t":"EXTENDED Forecast. Each block is 3 hours. (A sponsored feature)","v":"Re"},{"c":-9.857,"r":13.25,"t":"2026-08-20","v":"Ma"},{"c":-9.857,"r":14.1875,"t":"Local Time","v":"Ol"},{"c":-0.357,"r":13.25,"t":"Th","v":"Ma"},{"c":5.214,"r":13.25,"t":"Fri, 21","v":"Pe"},{"c":13.214,"r":13.25,"t":"Sat, 22","v":"Gr"},{"c":21.214,"r":13.25,"t":"Sun, 23","v":"Y"},{"c":29.214,"r":13.25,"t":"Mon, 24","v":"Sa"},{"c":37.214,"r":13.25,"t":"Tue, 25","v":"Ma"},
{"c":-9,"r":16.125,"t":"Cloud Cover:","v":"W"},{"c":-9,"r":17.125,"t":"ECMWF Cloud:","v":"W"},{"c":-9,"r":18.125,"t":"Darkness:","v":"Da"},
{"c":14.5,"r":20.8125,"t":"© 2026","v":"W"},{"c":19,"r":20.8125,"t":"Attilla Danko","v":"W"},{"c":28.643,"r":20.8125,"t":"forecast: A.Rahill","v":"W"},{"c":41.5,"r":20.8125,"t":"data:","v":"W"}],
"gmt":[{"c":-9.786,"r":-1.375,"t":"(GMT -4+0)","v":"Ol"},{"c":-9.786,"r":14.9375,"t":"(GMT -4+0)","v":"Ol"}],
"flagtext":[{"c":48.286,"r":20.625,"t":"Environment","v":"Bk"},{"c":48.286,"r":21.0625,"t":"Canada","v":"Bk"},{"c":52.93,"r":20.625,"t":"Environnement","v":"Bk"},{"c":52.93,"r":21.0625,"t":"Canada","v":"Bk"}],
"side":[{"c":-9.571,"r":2,"t":"- - Sky - -","v":"Sy"},{"c":-9.571,"r":8.53,"t":"- Ground -","v":"W"},{"c":-9.571,"r":17.28,"t":"- Sky -","v":"Sy"}],
"digits":[
{"c":0,"r":-1.25,"t":"5","v":"Gr"},{"c":1,"r":-1.25,"t":"6","v":"Gr"},{"c":2,"r":-1.25,"t":"7","v":"Gr"},{"c":3,"r":-1.25,"t":"8","v":"Gr"},{"c":4,"r":-1.25,"t":"9","v":"Gr"},{"c":5,"r":-1.25,"t":"0","v":"Gr"},{"c":6,"r":-1.25,"t":"1","v":"Gr"},{"c":7,"r":-1.25,"t":"2","v":"Gr"},{"c":8,"r":-1.25,"t":"3","v":"Gr"},{"c":9,"r":-1.25,"t":"4","v":"Gr"},{"c":10,"r":-1.25,"t":"5","v":"Gr"},{"c":11,"r":-1.25,"t":"6","v":"Gr"},{"c":12,"r":-1.25,"t":"7","v":"Gr"},{"c":13,"r":-1.25,"t":"8","v":"Gr"},{"c":14,"r":-1.25,"t":"9","v":"Gr"},{"c":15,"r":-1.25,"t":"0","v":"Gr"},{"c":16,"r":-1.25,"t":"1","v":"Gr"},{"c":17,"r":-1.25,"t":"2","v":"Gr"},{"c":18,"r":-1.25,"t":"3","v":"Gr"},
{"c":19,"r":-1.25,"t":"0","v":"Y"},{"c":20,"r":-1.25,"t":"1","v":"Y"},{"c":21,"r":-1.25,"t":"2","v":"Y"},{"c":22,"r":-1.25,"t":"3","v":"Y"},{"c":23,"r":-1.25,"t":"4","v":"Y"},{"c":24,"r":-1.25,"t":"5","v":"Y"},{"c":25,"r":-1.25,"t":"6","v":"Y"},{"c":26,"r":-1.25,"t":"7","v":"Y"},{"c":27,"r":-1.25,"t":"8","v":"Y"},{"c":28,"r":-1.25,"t":"9","v":"Y"},{"c":29,"r":-1.25,"t":"0","v":"Y"},{"c":30,"r":-1.25,"t":"1","v":"Y"},{"c":31,"r":-1.25,"t":"2","v":"Y"},{"c":32,"r":-1.25,"t":"3","v":"Y"},{"c":33,"r":-1.25,"t":"4","v":"Y"},{"c":34,"r":-1.25,"t":"5","v":"Y"},{"c":35,"r":-1.25,"t":"6","v":"Y"},{"c":36,"r":-1.25,"t":"7","v":"Y"},{"c":37,"r":-1.25,"t":"8","v":"Y"},{"c":38,"r":-1.25,"t":"9","v":"Y"},{"c":39,"r":-1.25,"t":"0","v":"Y"},{"c":40,"r":-1.25,"t":"1","v":"Y"},{"c":41,"r":-1.25,"t":"2","v":"Y"},{"c":42,"r":-1.25,"t":"3","v":"Y"},
{"c":43,"r":-1.25,"t":"0","v":"Sa"},{"c":44,"r":-1.25,"t":"1","v":"Sa"},{"c":45,"r":-1.25,"t":"2","v":"Sa"},{"c":46,"r":-1.25,"t":"3","v":"Sa"},{"c":47,"r":-1.25,"t":"4","v":"Sa"},{"c":48,"r":-1.25,"t":"5","v":"Sa"},{"c":49,"r":-1.25,"t":"6","v":"Sa"},{"c":50,"r":-1.25,"t":"7","v":"Sa"},{"c":51,"r":-1.25,"t":"8","v":"Sa"},{"c":52,"r":-1.25,"t":"9","v":"Sa"},{"c":53,"r":-1.25,"t":"0","v":"Sa"},{"c":54,"r":-1.25,"t":"1","v":"Sa"},{"c":55,"r":-1.25,"t":"2","v":"Sa"},{"c":56,"r":-1.25,"t":"3","v":"Sa"},{"c":57,"r":-1.25,"t":"4","v":"Sa"},{"c":58,"r":-1.25,"t":"5","v":"Sa"},{"c":59,"r":-1.25,"t":"6","v":"Sa"},{"c":60,"r":-1.25,"t":"7","v":"Sa"},{"c":61,"r":-1.25,"t":"8","v":"Sa"},{"c":62,"r":-1.25,"t":"9","v":"Sa"},{"c":63,"r":-1.25,"t":"0","v":"Sa"},{"c":64,"r":-1.25,"t":"1","v":"Sa"},{"c":65,"r":-1.25,"t":"2","v":"Sa"},{"c":66,"r":-1.25,"t":"3","v":"Sa"},
{"c":67,"r":-1.25,"t":"0","v":"Ma"},{"c":68,"r":-1.25,"t":"1","v":"Ma"},{"c":69,"r":-1.25,"t":"2","v":"Ma"},{"c":70,"r":-1.25,"t":"3","v":"Ma"},{"c":71,"r":-1.25,"t":"4","v":"Ma"},{"c":72,"r":-1.25,"t":"5","v":"Ma"},{"c":73,"r":-1.25,"t":"6","v":"Ma"},{"c":74,"r":-1.25,"t":"7","v":"Ma"},{"c":75,"r":-1.25,"t":"8","v":"Ma"},{"c":76,"r":-1.25,"t":"9","v":"Ma"},{"c":77,"r":-1.25,"t":"0","v":"Ma"},{"c":78,"r":-1.25,"t":"1","v":"Ma"},{"c":79,"r":-1.25,"t":"2","v":"Ma"},{"c":80,"r":-1.25,"t":"3","v":"Ma"},{"c":81,"r":-1.25,"t":"4","v":"Ma"},
{"c":5,"r":-2.125,"t":"1","v":"Gr"},{"c":6,"r":-2.125,"t":"1","v":"Gr"},{"c":7,"r":-2.125,"t":"1","v":"Gr"},{"c":8,"r":-2.125,"t":"1","v":"Gr"},{"c":9,"r":-2.125,"t":"1","v":"Gr"},{"c":10,"r":-2.125,"t":"1","v":"Gr"},{"c":11,"r":-2.125,"t":"1","v":"Gr"},{"c":12,"r":-2.125,"t":"1","v":"Gr"},{"c":13,"r":-2.125,"t":"1","v":"Gr"},{"c":14,"r":-2.125,"t":"1","v":"Gr"},{"c":15,"r":-2.125,"t":"2","v":"Gr"},{"c":16,"r":-2.125,"t":"2","v":"Gr"},{"c":17,"r":-2.125,"t":"2","v":"Gr"},{"c":18,"r":-2.125,"t":"2","v":"Gr"},
{"c":29,"r":-2.125,"t":"1","v":"Y"},{"c":30,"r":-2.125,"t":"1","v":"Y"},{"c":31,"r":-2.125,"t":"1","v":"Y"},{"c":32,"r":-2.125,"t":"1","v":"Y"},{"c":33,"r":-2.125,"t":"1","v":"Y"},{"c":34,"r":-2.125,"t":"1","v":"Y"},{"c":35,"r":-2.125,"t":"1","v":"Y"},{"c":36,"r":-2.125,"t":"1","v":"Y"},{"c":37,"r":-2.125,"t":"1","v":"Y"},{"c":38,"r":-2.125,"t":"1","v":"Y"},{"c":39,"r":-2.125,"t":"2","v":"Y"},{"c":40,"r":-2.125,"t":"2","v":"Y"},{"c":41,"r":-2.125,"t":"2","v":"Y"},{"c":42,"r":-2.125,"t":"2","v":"Y"},
{"c":53,"r":-2.125,"t":"1","v":"Sa"},{"c":54,"r":-2.125,"t":"1","v":"Sa"},{"c":55,"r":-2.125,"t":"1","v":"Sa"},{"c":56,"r":-2.125,"t":"1","v":"Sa"},{"c":57,"r":-2.125,"t":"1","v":"Sa"},{"c":58,"r":-2.125,"t":"1","v":"Sa"},{"c":59,"r":-2.125,"t":"1","v":"Sa"},{"c":60,"r":-2.125,"t":"1","v":"Sa"},{"c":61,"r":-2.125,"t":"1","v":"Sa"},{"c":62,"r":-2.125,"t":"1","v":"Sa"},{"c":63,"r":-2.125,"t":"2","v":"Sa"},{"c":64,"r":-2.125,"t":"2","v":"Sa"},{"c":65,"r":-2.125,"t":"2","v":"Sa"},{"c":66,"r":-2.125,"t":"2","v":"Sa"},
{"c":77,"r":-2.125,"t":"1","v":"Ma"},{"c":78,"r":-2.125,"t":"1","v":"Ma"},{"c":79,"r":-2.125,"t":"1","v":"Ma"},{"c":80,"r":-2.125,"t":"1","v":"Ma"},{"c":81,"r":-2.125,"t":"1","v":"Ma"},
{"c":0,"r":15.06,"t":"7","v":"Ma"},{"c":1,"r":15.06,"t":"0","v":"Ma"},{"c":2,"r":15.06,"t":"3","v":"Ma"},{"c":3,"r":15.06,"t":"2","v":"Pe"},{"c":4,"r":15.06,"t":"5","v":"Pe"},{"c":5,"r":15.06,"t":"8","v":"Pe"},{"c":6,"r":15.06,"t":"1","v":"Pe"},{"c":7,"r":15.06,"t":"4","v":"Pe"},{"c":8,"r":15.06,"t":"7","v":"Pe"},{"c":9,"r":15.06,"t":"0","v":"Pe"},{"c":10,"r":15.06,"t":"3","v":"Pe"},{"c":11,"r":15.06,"t":"2","v":"Gr"},{"c":12,"r":15.06,"t":"5","v":"Gr"},{"c":13,"r":15.06,"t":"8","v":"Gr"},{"c":14,"r":15.06,"t":"1","v":"Gr"},{"c":15,"r":15.06,"t":"4","v":"Gr"},{"c":16,"r":15.06,"t":"7","v":"Gr"},{"c":17,"r":15.06,"t":"0","v":"Gr"},{"c":18,"r":15.06,"t":"3","v":"Gr"},{"c":19,"r":15.06,"t":"2","v":"Y"},{"c":20,"r":15.06,"t":"5","v":"Y"},{"c":21,"r":15.06,"t":"8","v":"Y"},{"c":22,"r":15.06,"t":"1","v":"Y"},{"c":23,"r":15.06,"t":"4","v":"Y"},{"c":24,"r":15.06,"t":"7","v":"Y"},{"c":25,"r":15.06,"t":"0","v":"Y"},{"c":26,"r":15.06,"t":"3","v":"Y"},{"c":27,"r":15.06,"t":"2","v":"Sa"},{"c":28,"r":15.06,"t":"5","v":"Sa"},{"c":29,"r":15.06,"t":"8","v":"Sa"},{"c":30,"r":15.06,"t":"1","v":"Sa"},{"c":31,"r":15.06,"t":"4","v":"Sa"},{"c":32,"r":15.06,"t":"7","v":"Sa"},{"c":33,"r":15.06,"t":"0","v":"Sa"},{"c":34,"r":15.06,"t":"3","v":"Sa"},{"c":35,"r":15.06,"t":"2","v":"Ma"},{"c":36,"r":15.06,"t":"5","v":"Ma"},{"c":37,"r":15.06,"t":"8","v":"Ma"},{"c":38,"r":15.06,"t":"1","v":"Ma"},{"c":39,"r":15.06,"t":"4","v":"Ma"},{"c":40,"r":15.06,"t":"7","v":"Ma"},{"c":41,"r":15.06,"t":"0","v":"Ma"},{"c":42,"r":15.06,"t":"3","v":"Ma"},{"c":43,"r":15.06,"t":"2","v":"Pe"},{"c":44,"r":15.06,"t":"5","v":"Pe"},
{"c":0,"r":14.19,"t":"1","v":"Ma"},{"c":1,"r":14.19,"t":"2","v":"Ma"},{"c":2,"r":14.19,"t":"2","v":"Ma"},{"c":6,"r":14.19,"t":"1","v":"Pe"},{"c":7,"r":14.19,"t":"1","v":"Pe"},{"c":8,"r":14.19,"t":"1","v":"Pe"},{"c":9,"r":14.19,"t":"2","v":"Pe"},{"c":10,"r":14.19,"t":"2","v":"Pe"},{"c":14,"r":14.19,"t":"1","v":"Gr"},{"c":15,"r":14.19,"t":"1","v":"Gr"},{"c":16,"r":14.19,"t":"1","v":"Gr"},{"c":17,"r":14.19,"t":"2","v":"Gr"},{"c":18,"r":14.19,"t":"2","v":"Gr"},{"c":22,"r":14.19,"t":"1","v":"Y"},{"c":23,"r":14.19,"t":"1","v":"Y"},{"c":24,"r":14.19,"t":"1","v":"Y"},{"c":25,"r":14.19,"t":"2","v":"Y"},{"c":26,"r":14.19,"t":"2","v":"Y"},{"c":30,"r":14.19,"t":"1","v":"Sa"},{"c":31,"r":14.19,"t":"1","v":"Sa"},{"c":32,"r":14.19,"t":"1","v":"Sa"},{"c":33,"r":14.19,"t":"2","v":"Sa"},{"c":34,"r":14.19,"t":"2","v":"Sa"},{"c":38,"r":14.19,"t":"1","v":"Ma"},{"c":39,"r":14.19,"t":"1","v":"Ma"},{"c":40,"r":14.19,"t":"1","v":"Ma"},{"c":41,"r":14.19,"t":"2","v":"Ma"},{"c":42,"r":14.19,"t":"2","v":"Ma"}]
},
"encoding":{"x":{"field":"c","type":"quantitative","scale":{"domain":[-10,81.7143],"nice":false,"zero":false},"axis":null},"y":{"field":"r","type":"quantitative","scale":{"domain":[-5.1875,21.3125],"reverse":true,"nice":false,"zero":false},"axis":null},"color":{"field":"v","type":"nominal","legend":null,"scale":{"domain":["a","b","c","d","e","f","g","h","i","j","k","l","m","n","o","D","E","F","H","I","J","K","L","M","N","O","P","Q","S","T","W","Gr","Y","Sa","Ma","Pe","Ol","Da","Re","Cy","Bk","B","Gd","Sy"],"range":["#fcfcfc","#ebebeb","#dadada","#c8c8c8","#b5ffff","#a0e4e0","#96d6d4","#78b8ff","#60a2e8","#5090da","#4080c4","#2d6aaa","#1e5c9e","#104f90","#003f80","#b80000","#f00000","#e40000","#ff3300","#ff8800","#ffcc00","#eeff11","#99ff66","#55ffaa","#00ffee","#88c0c0","#77b0ee","#ffa000","#ff5f00","#ff2000","#ffffff","#66ff77","#ffff00","#ff7777","#ff00ff","#7777ff","#cccc00","#cc7733","#ff0000","#00cccc","#000000","#0060ee","#557000","#e8e800"]}}},
"layer":[
{"data":{"name":"boxes"},"mark":{"type":"rect"},"encoding":{"x2":{"field":"c1"},"y2":{"field":"r1"}}},
{"data":{"name":"leaf"},"mark":{"type":"point","filled":true,"opacity":1,"strokeWidth":0,"size":90,"shape":"M0,-1L.3,-.5L.6,-.6L.5,0L.9,.1L.6,.4L.1,.45L.1,.9L-.1,.9L-.1,.45L-.6,.4L-.9,.1L-.5,0L-.6,-.6L-.3,-.5Z"}},
{"data":{"name":"blocks"},"mark":{"type":"point","filled":true,"opacity":1,"strokeWidth":0,"shape":"square","size":144}},
{"data":{"name":"links"},"mark":{"type":"point","filled":true,"opacity":1,"strokeWidth":0,"size":4,"shape":"M-1,-3H1V3H-1Z"}},
{"data":{"name":"dark"},"mark":{"type":"point","filled":true,"opacity":1,"strokeWidth":0,"shape":"square","size":144},"encoding":{"color":{"value":"#000000"},"fill":{"field":"d","type":"quantitative","legend":null,"scale":{"domain":[0,1,2,3,4,5,6,7,8,9,10,11],"range":["#ffffff","#fff8ee","#ffeeda","#ffe2bf","#ffd295","#ffa530","#19c8f0","#0074f0","#0050d0","#0020a8","#000070","#00005a"]}}}},
{"data":{"name":"strips"},"mark":{"type":"point","filled":true,"opacity":1,"strokeWidth":0,"size":4,"shape":"M-1.6,-6H1.6V6H-1.6Z"},"encoding":{"color":{"value":"#000000"},"fill":{"field":"d","type":"quantitative","legend":null,"scale":{"domain":[0,1,2,3,4,5,6,7,8,9,10,11],"range":["#ffffff","#fff8ee","#ffeeda","#ffe2bf","#ffd295","#ffa530","#19c8f0","#0074f0","#0050d0","#0020a8","#000070","#00005a"]}}}},
{"data":{"name":"rules"},"mark":{"type":"rect"},"encoding":{"x2":{"field":"c1"},"y2":{"field":"r1"}}},
{"data":{"name":"title"},"mark":{"type":"text","font":"Liberation Mono","fontWeight":"bold","fontSize":20,"align":"left","baseline":"middle"},"encoding":{"text":{"field":"t"}}},
{"data":{"name":"labels"},"mark":{"type":"text","font":"Liberation Mono","fontSize":15,"align":"left","baseline":"middle","dy":-1},"encoding":{"text":{"field":"t"}}},
{"data":{"name":"digits"},"mark":{"type":"text","font":"Liberation Mono","fontSize":15,"align":"center","baseline":"middle"},"encoding":{"text":{"field":"t"}}},
{"data":{"name":"gmt"},"mark":{"type":"text","font":"Liberation Mono","fontSize":8,"align":"left","baseline":"middle"},"encoding":{"text":{"field":"t"}}},
{"data":{"name":"flagtext"},"mark":{"type":"text","font":"Liberation Mono","fontSize":7.6,"align":"left","baseline":"middle"},"encoding":{"text":{"field":"t"}}},
{"data":{"name":"side"},"mark":{"type":"text","font":"Liberation Mono","fontSize":10,"angle":270,"align":"center","baseline":"middle"},"encoding":{"text":{"field":"t"}}}
]}
